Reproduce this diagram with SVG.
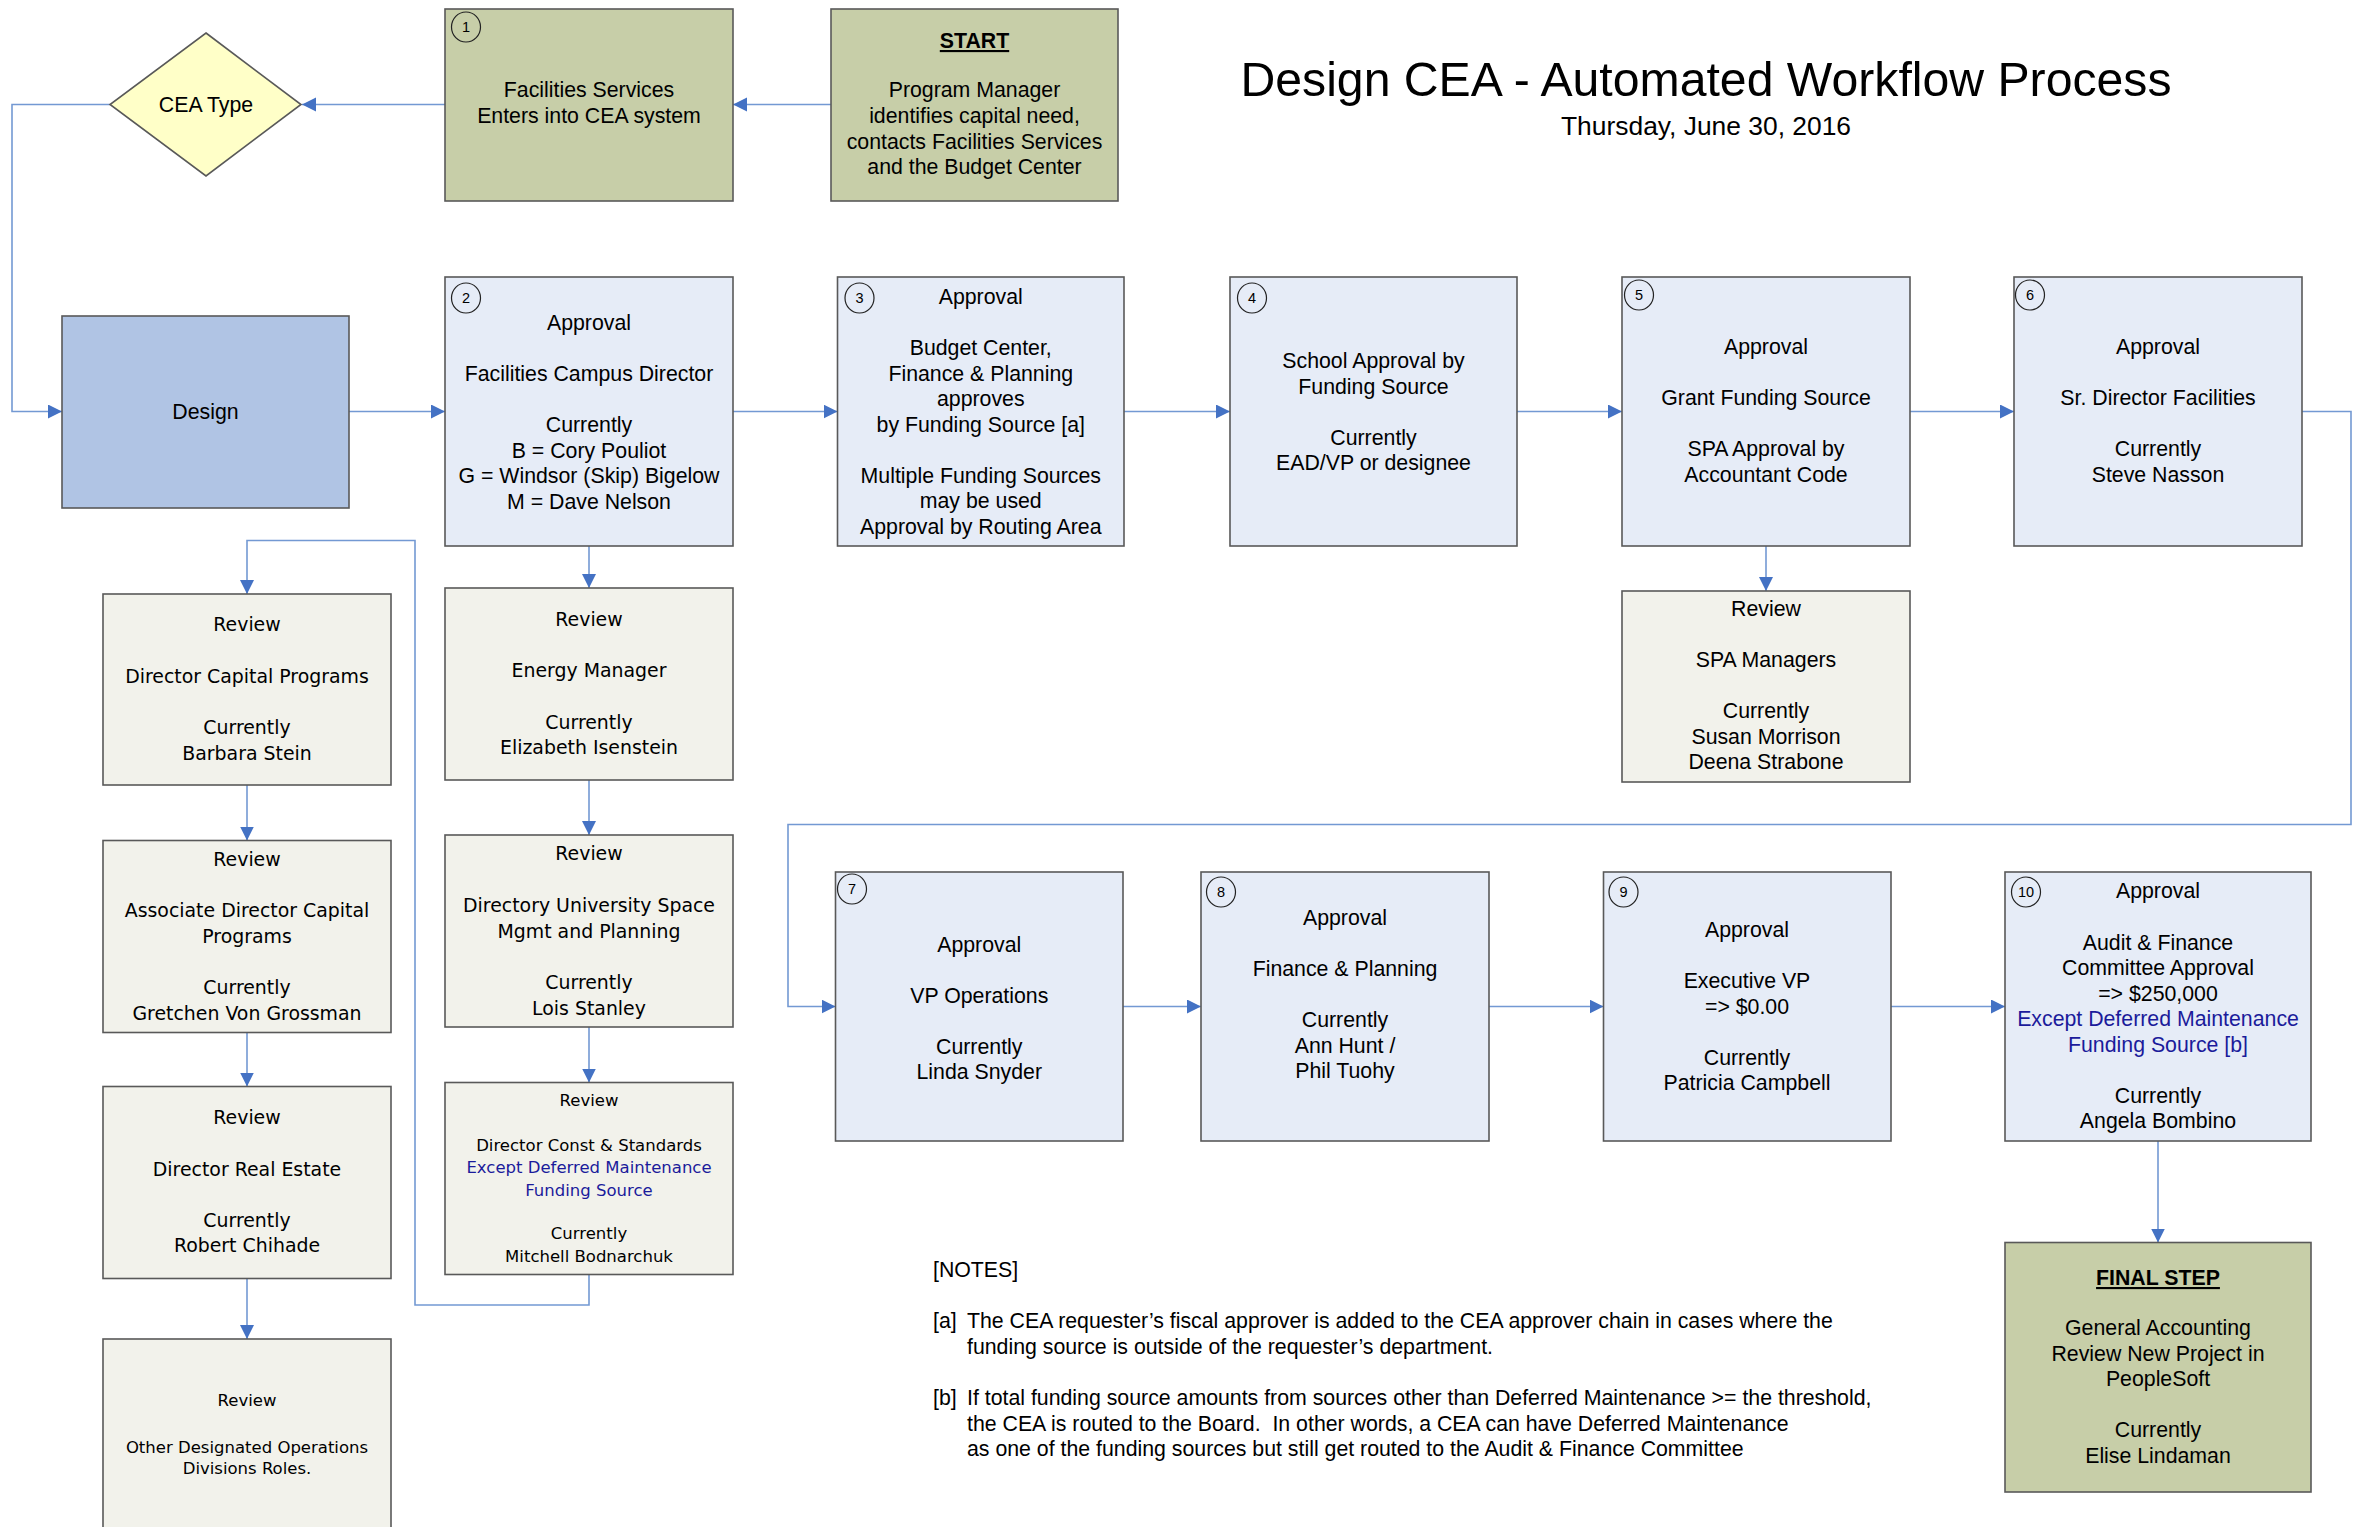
<svg xmlns="http://www.w3.org/2000/svg" width="2362" height="1527" viewBox="0 0 2362 1527">
<style>
.bx{stroke:#595959;stroke-width:1.6}
.ol{fill:#c7cea8}
.ap{fill:#e6ecf7}
.rv{fill:#f2f2eb}
.dg{fill:#b0c4e4}
.t{font-family:"Liberation Sans",Arial,sans-serif;font-size:21.3px;fill:#000;text-anchor:middle}
.v{font-family:"DejaVu Sans",Verdana,sans-serif;font-size:18.9px;fill:#000;text-anchor:middle}
.vs{font-size:16.5px}
.bl{fill:#1b1b9b}
.b{font-weight:bold;text-decoration:underline}
.nc{fill:none;stroke:#222;stroke-width:1.2}
.nt{font-family:"Liberation Sans",Arial,sans-serif;font-size:14.5px;fill:#000;text-anchor:middle}
.ca{fill:none;stroke:#7399d3;stroke-width:1.6;marker-end:url(#ar)}
.n{font-family:"Liberation Sans",Arial,sans-serif;font-size:21.3px;fill:#000}
</style>
<defs>
<marker id="ar" markerUnits="userSpaceOnUse" markerWidth="15" markerHeight="15" refX="14" refY="7" orient="auto">
<path d="M0,0 L14,7 L0,14 z" fill="#4472c4"/>
</marker>
</defs>
<rect width="2362" height="1527" fill="#fff"/>

<g id="connectors">
<path class="ca" d="M831,104.5 H733"/>
<path class="ca" d="M445,104.5 H302"/>
<path class="ca" d="M110,104.5 H12 V411.5 H62"/>
<path class="ca" d="M349,411.5 H445"/>
<path class="ca" d="M733,411.5 H837.5"/>
<path class="ca" d="M1124,411.5 H1230"/>
<path class="ca" d="M1517,411.5 H1622"/>
<path class="ca" d="M1910,411.5 H2014"/>
<path class="ca" d="M2302,411.5 H2351 V824.5 H788 V1006.5 H835.5"/>
<path class="ca" d="M1123,1006.5 H1201"/>
<path class="ca" d="M1489,1006.5 H1603.5"/>
<path class="ca" d="M1891,1006.5 H2005"/>
<path class="ca" d="M2158,1141 V1242.5"/>
<path class="ca" d="M1766,546 V591"/>
<path class="ca" d="M589,546 V588"/>
<path class="ca" d="M589,780 V835"/>
<path class="ca" d="M589,1027 V1082.5"/>
<path class="ca" d="M589,1275 V1305 H415 V540.5 H247 V594"/>
<path class="ca" d="M247,785 V840.5"/>
<path class="ca" d="M247,1032.5 V1086.5"/>
<path class="ca" d="M247,1278.5 V1339"/>
</g>

<g id="title">
<text x="1706" y="96" font-family="Liberation Sans, Arial, sans-serif" font-size="48.2" text-anchor="middle">Design CEA - Automated Workflow Process</text>
<text x="1706" y="135" font-family="Liberation Sans, Arial, sans-serif" font-size="26.4" text-anchor="middle">Thursday, June 30, 2016</text>
</g>

<g id="start">
<rect class="bx ol" x="831" y="9" width="287" height="192"/>
<text class="t"><tspan class="b" x="974.5" y="48">START</tspan><tspan x="974.5" y="97">Program Manager</tspan><tspan x="974.5" y="123">identifies capital need,</tspan><tspan x="974.5" y="148.5">contacts Facilities Services</tspan><tspan x="974.5" y="174">and the Budget Center</tspan></text>
</g>

<g id="step1">
<rect class="bx ol" x="445" y="9" width="288" height="192"/>
<ellipse class="nc" cx="466" cy="27" rx="14.5" ry="15"/>
<text class="nt" x="466" y="32">1</text>
<text class="t"><tspan x="589" y="97">Facilities Services</tspan><tspan x="589" y="123">Enters into CEA system</tspan></text>
</g>

<g id="cea-type">
<polygon class="bx" fill="#ffffc8" points="206,33 301,104.5 206,176 110,104.5"/>
<text class="t" x="206" y="111.5">CEA Type</text>
</g>

<g id="design">
<rect class="bx dg" x="62" y="316" width="287" height="192"/>
<text class="t" x="205.5" y="419">Design</text>
</g>

<g id="step2">
<rect class="bx ap" x="445" y="277" width="288" height="269"/>
<ellipse class="nc" cx="466" cy="298" rx="14.5" ry="15"/>
<text class="nt" x="466" y="303">2</text>
<text class="t"><tspan x="589" y="330">Approval</tspan><tspan x="589" y="381">Facilities Campus Director</tspan><tspan x="589" y="432">Currently</tspan><tspan x="589" y="457.5">B = Cory Pouliot</tspan><tspan x="589" y="483">G = Windsor (Skip) Bigelow</tspan><tspan x="589" y="508.5">M = Dave Nelson</tspan></text>
</g>

<g id="step3">
<rect class="bx ap" x="837.5" y="277" width="286.5" height="269"/>
<ellipse class="nc" cx="859.5" cy="298" rx="14.5" ry="15"/>
<text class="nt" x="859.5" y="303">3</text>
<text class="t"><tspan x="980.75" y="304">Approval</tspan><tspan x="980.75" y="355">Budget Center,</tspan><tspan x="980.75" y="380.5">Finance &amp; Planning</tspan><tspan x="980.75" y="406">approves</tspan><tspan x="980.75" y="431.5">by Funding Source [a]</tspan><tspan x="980.75" y="482.5">Multiple Funding Sources</tspan><tspan x="980.75" y="508">may be used</tspan><tspan x="980.75" y="533.5">Approval by Routing Area</tspan></text>
</g>

<g id="step4">
<rect class="bx ap" x="1230" y="277" width="287" height="269"/>
<ellipse class="nc" cx="1252" cy="298" rx="14.5" ry="15"/>
<text class="nt" x="1252" y="303">4</text>
<text class="t"><tspan x="1373.5" y="368">School Approval by</tspan><tspan x="1373.5" y="393.5">Funding Source</tspan><tspan x="1373.5" y="444.5">Currently</tspan><tspan x="1373.5" y="470">EAD/VP or designee</tspan></text>
</g>

<g id="step5">
<rect class="bx ap" x="1622" y="277" width="288" height="269"/>
<ellipse class="nc" cx="1639" cy="295" rx="14.5" ry="15"/>
<text class="nt" x="1639" y="300">5</text>
<text class="t"><tspan x="1766" y="354">Approval</tspan><tspan x="1766" y="405">Grant Funding Source</tspan><tspan x="1766" y="456">SPA Approval by</tspan><tspan x="1766" y="482">Accountant Code</tspan></text>
</g>

<g id="step6">
<rect class="bx ap" x="2014" y="277" width="288" height="269"/>
<ellipse class="nc" cx="2030" cy="295" rx="14.5" ry="15"/>
<text class="nt" x="2030" y="300">6</text>
<text class="t"><tspan x="2158" y="354">Approval</tspan><tspan x="2158" y="405">Sr. Director Facilities</tspan><tspan x="2158" y="456">Currently</tspan><tspan x="2158" y="482">Steve Nasson</tspan></text>
</g>

<g id="review-spa">
<rect class="bx rv" x="1622" y="591" width="288" height="191"/>
<text class="t"><tspan x="1766" y="616">Review</tspan><tspan x="1766" y="667">SPA Managers</tspan><tspan x="1766" y="718">Currently</tspan><tspan x="1766" y="743.5">Susan Morrison</tspan><tspan x="1766" y="769">Deena Strabone</tspan></text>
</g>

<g id="review-energy">
<rect class="bx rv" x="445" y="588" width="288" height="192"/>
<text class="v"><tspan x="589" y="626">Review</tspan><tspan x="589" y="677">Energy Manager</tspan><tspan x="589" y="728.5">Currently</tspan><tspan x="589" y="754">Elizabeth Isenstein</tspan></text>
</g>

<g id="review-space">
<rect class="bx rv" x="445" y="835" width="288" height="192"/>
<text class="v"><tspan x="589" y="860">Review</tspan><tspan x="589" y="911.5">Directory University Space</tspan><tspan x="589" y="937.5">Mgmt and Planning</tspan><tspan x="589" y="989">Currently</tspan><tspan x="589" y="1014.5">Lois Stanley</tspan></text>
</g>

<g id="review-const">
<rect class="bx rv" x="445" y="1082.5" width="288" height="192"/>
<text class="v vs"><tspan x="589" y="1105.5">Review</tspan><tspan x="589" y="1151">Director Const &amp; Standards</tspan><tspan class="bl" x="589" y="1173">Except Deferred Maintenance</tspan><tspan class="bl" x="589" y="1195.5">Funding Source</tspan><tspan x="589" y="1239">Currently</tspan><tspan x="589" y="1262">Mitchell Bodnarchuk</tspan></text>
</g>

<g id="review-dcp">
<rect class="bx rv" x="103" y="594" width="288" height="191"/>
<text class="v"><tspan x="247" y="631">Review</tspan><tspan x="247" y="682.5">Director Capital Programs</tspan><tspan x="247" y="734">Currently</tspan><tspan x="247" y="759.5">Barbara Stein</tspan></text>
</g>

<g id="review-adcp">
<rect class="bx rv" x="103" y="840.5" width="288" height="192"/>
<text class="v"><tspan x="247" y="865.5">Review</tspan><tspan x="247" y="917">Associate Director Capital</tspan><tspan x="247" y="942.5">Programs</tspan><tspan x="247" y="994">Currently</tspan><tspan x="247" y="1019.5">Gretchen Von Grossman</tspan></text>
</g>

<g id="review-dre">
<rect class="bx rv" x="103" y="1086.5" width="288" height="192"/>
<text class="v"><tspan x="247" y="1123.5">Review</tspan><tspan x="247" y="1175.5">Director Real Estate</tspan><tspan x="247" y="1226.5">Currently</tspan><tspan x="247" y="1252">Robert Chihade</tspan></text>
</g>

<g id="review-other">
<rect class="bx rv" x="103" y="1339" width="288" height="200"/>
<text class="v vs"><tspan x="247" y="1406">Review</tspan><tspan x="247" y="1452.5">Other Designated Operations</tspan><tspan x="247" y="1474">Divisions Roles.</tspan></text>
</g>

<g id="step7">
<rect class="bx ap" x="835.5" y="872" width="287.5" height="269"/>
<ellipse class="nc" cx="852" cy="889" rx="14.5" ry="15"/>
<text class="nt" x="852" y="894">7</text>
<text class="t"><tspan x="979.25" y="952">Approval</tspan><tspan x="979.25" y="1003">VP Operations</tspan><tspan x="979.25" y="1054">Currently</tspan><tspan x="979.25" y="1079">Linda Snyder</tspan></text>
</g>

<g id="step8">
<rect class="bx ap" x="1201" y="872" width="288" height="269"/>
<ellipse class="nc" cx="1221" cy="892" rx="14.5" ry="15"/>
<text class="nt" x="1221" y="897">8</text>
<text class="t"><tspan x="1345" y="925">Approval</tspan><tspan x="1345" y="976">Finance &amp; Planning</tspan><tspan x="1345" y="1027">Currently</tspan><tspan x="1345" y="1052.5">Ann Hunt /</tspan><tspan x="1345" y="1078">Phil Tuohy</tspan></text>
</g>

<g id="step9">
<rect class="bx ap" x="1603.5" y="872" width="287.5" height="269"/>
<ellipse class="nc" cx="1623.5" cy="892" rx="14.5" ry="15"/>
<text class="nt" x="1623.5" y="897">9</text>
<text class="t"><tspan x="1747" y="937">Approval</tspan><tspan x="1747" y="988">Executive VP</tspan><tspan x="1747" y="1013.5">=&gt; $0.00</tspan><tspan x="1747" y="1065">Currently</tspan><tspan x="1747" y="1090">Patricia Campbell</tspan></text>
</g>

<g id="step10">
<rect class="bx ap" x="2005" y="872" width="306" height="269"/>
<ellipse class="nc" cx="2026" cy="892" rx="14.5" ry="15"/>
<text class="nt" x="2026" y="897">10</text>
<text class="t"><tspan x="2158" y="898">Approval</tspan><tspan x="2158" y="950">Audit &amp; Finance</tspan><tspan x="2158" y="975">Committee Approval</tspan><tspan x="2158" y="1000.5">=&gt; $250,000</tspan><tspan class="bl" x="2158" y="1026">Except Deferred Maintenance</tspan><tspan class="bl" x="2158" y="1051.5">Funding Source [b]</tspan><tspan x="2158" y="1103">Currently</tspan><tspan x="2158" y="1128">Angela Bombino</tspan></text>
</g>

<g id="final-step">
<rect class="bx ol" x="2005" y="1242.5" width="306" height="249.5"/>
<text class="t"><tspan class="b" x="2158" y="1285">FINAL STEP</tspan><tspan x="2158" y="1335">General Accounting</tspan><tspan x="2158" y="1360.5">Review New Project in</tspan><tspan x="2158" y="1386">PeopleSoft</tspan><tspan x="2158" y="1437">Currently</tspan><tspan x="2158" y="1462.5">Elise Lindaman</tspan></text>
</g>

<g id="notes">
<text class="n" x="933" y="1277">[NOTES]</text>
<text class="n" x="933" y="1328">[a]</text>
<text class="n" x="967" y="1328">The CEA requester’s fiscal approver is added to the CEA approver chain in cases where the</text>
<text class="n" x="967" y="1353.5">funding source is outside of the requester’s department.</text>
<text class="n" x="933" y="1405">[b]</text>
<text class="n" x="967" y="1405">If total funding source amounts from sources other than Deferred Maintenance &gt;= the threshold,</text>
<text class="n" x="967" y="1430.5" xml:space="preserve">the CEA is routed to the Board.  In other words, a CEA can have Deferred Maintenance</text>
<text class="n" x="967" y="1456">as one of the funding sources but still get routed to the Audit &amp; Finance Committee</text>
</g>
</svg>
